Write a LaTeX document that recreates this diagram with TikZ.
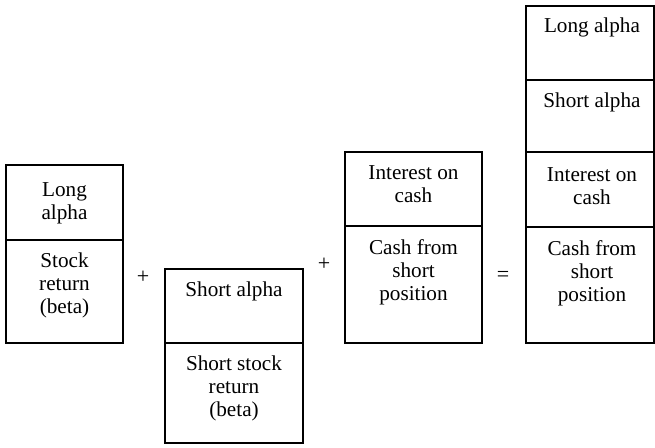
\documentclass[tikz,border=0pt]{standalone}
\usepackage{fontspec}
\setmainfont{Liberation Serif}
\begin{document}
\begin{tikzpicture}[x=1pt,y=-1pt,
  cell/.style={draw=black,line width=1.1pt},
  celltext/.style={anchor=north,inner sep=0pt,align=center,font=\fontsize{21.2}{23}\selectfont},
  opsign/.style={inner sep=0pt,font=\fontsize{22}{23}\selectfont}]
\useasboundingbox (0,0) rectangle (655,447);

% long position
\draw[cell] (6,165) rectangle (123,240);
\draw[cell] (6,240) rectangle (123,343);
\node[celltext] (longalpha) at (64.5,182) {Long\\alpha};
\node[celltext] (stockret) at (64.5,253) {Stock\\return\\(beta)};

\node[opsign] (plusa) at (143,277) {+};

% short position
\draw[cell] (165,269) rectangle (303,343);
\draw[cell] (165,343) rectangle (303,443);
\node[celltext] (shortalpha) at (234,282) {Short alpha};
\node[celltext] (shortret) at (234,356) {Short stock\\return\\(beta)};

\node[opsign] (plusb) at (324,264) {+};

% cash
\draw[cell] (345,152) rectangle (482,226);
\draw[cell] (345,226) rectangle (482,343);
\node[celltext] (interest) at (413.5,165) {Interest on\\cash};
\node[celltext] (cash) at (413.5,239) {Cash from\\short\\position};

\node[opsign] (equal) at (503,276) {=};

% total
\draw[cell] (526,6) rectangle (654,80);
\draw[cell] (526,80) rectangle (654,152);
\draw[cell] (526,152) rectangle (654,227);
\draw[cell] (526,227) rectangle (654,343);
\node[celltext] (totlong) at (592,18) {Long alpha};
\node[celltext] (totshort) at (592,93) {Short alpha};
\node[celltext] (totint) at (592,167) {Interest on\\cash};
\node[celltext] (totcash) at (592,240) {Cash from\\short\\position};

\end{tikzpicture}
\end{document}
